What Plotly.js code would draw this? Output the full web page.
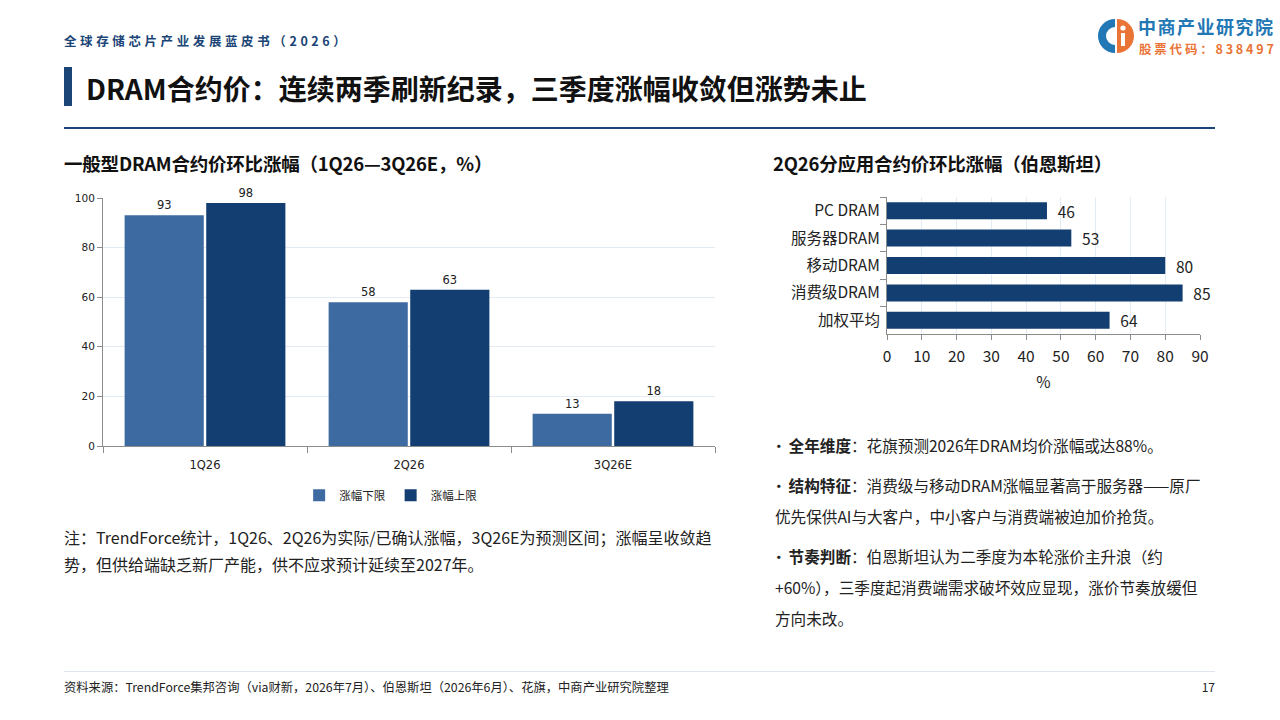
<!DOCTYPE html>
<html>
<head>
<meta charset="utf-8">
<script src="https://cdn.plot.ly/plotly-3.0.1.min.js"></script>
<style>
  html, body { margin: 0; padding: 0; background: #fff; }
  body { width: 1280px; height: 720px; position: relative; overflow: hidden;
         font-family: "Noto Sans CJK SC", "Noto Sans", sans-serif; color: #222; }
  .abs { position: absolute; white-space: nowrap; }
  #kicker { left: 64px; top: 31px; font-size: 12.5px; font-weight: 700; color: #1b4577; letter-spacing: 3.6px; }
  #bar { left: 64px; top: 67px; width: 8px; height: 39px; background: #1b4577; }
  #title { left: 86px; top: 68px; font-size: 28px; font-weight: 700; color: #111; line-height: 40px; letter-spacing: 0; }
  #rule { left: 64px; top: 127px; width: 1151px; height: 2px; background: #1b4577; }
  .sub { top: 149px; font-size: 18.5px; font-weight: 700; color: #111; line-height: 28px; letter-spacing: -0.2px; }
  #note { left: 64px; top: 524px; font-size: 16px; line-height: 27px; color: #222; }
  #bullets { left: 775px; top: 430px; font-size: 15.6px; line-height: 31px; color: #222; }
  #bullets p { margin: 0 0 9px 0; }
  .dot { margin-left: -4px; margin-right: 2px; }
  #foot-rule { left: 64px; top: 671px; width: 1151px; height: 1px; background: #dfe5ec; }
  #source { left: 64px; top: 677px; font-size: 12.3px; color: #222; line-height: 20px; }
  #page { left: 1190px; top: 677px; width: 25px; text-align: right; font-size: 12px; line-height: 20px; }
  #logo-cn { left: 1138px; top: 16px; font-size: 18px; font-weight: 700; color: #2277b5; line-height: 20px; letter-spacing: 1.5px; }
  #logo-code { left: 1139px; top: 42px; font-size: 12.5px; font-weight: 700; color: #ea7436; letter-spacing: 2.8px; line-height: 14px; }
  #chart-left { position: absolute; left: 60px; top: 180px; width: 660px; height: 330px; }
  #chart-right { position: absolute; left: 760px; top: 190px; width: 460px; height: 210px; }
</style>
</head>
<body>
<div id="kicker" class="abs">全球存储芯片产业发展蓝皮书（2026）</div>
<svg class="abs" style="left:1096px;top:17px" width="38" height="38" viewBox="0 0 38 38">
  <path d="M19 2 A17 17 0 0 0 19 36 L19 28 A9 9 0 0 1 19 10 Z" fill="#2277b5"/>
  <path d="M21 2 A17 17 0 0 1 21 36 Z" fill="#ea7436"/>
  <circle cx="27" cy="11" r="2.6" fill="#fff"/>
  <rect x="25" y="16" width="4" height="13" fill="#fff"/>
</svg>
<div id="logo-cn" class="abs">中商产业研究院</div>
<div id="logo-code" class="abs">股票代码：838497</div>

<div id="bar" class="abs"></div>
<div id="title" class="abs">DRAM合约价：连续两季刷新纪录，三季度涨幅收敛但涨势未止</div>
<div id="rule" class="abs"></div>

<div class="abs sub" style="left:64px">一般型DRAM合约价环比涨幅（1Q26—3Q26E，%）</div>
<div class="abs sub" style="left:773px">2Q26分应用合约价环比涨幅（伯恩斯坦）</div>

<div id="chart-left"></div>
<div id="chart-right"></div>

<div id="note" class="abs">注：TrendForce统计，1Q26、2Q26为实际/已确认涨幅，3Q26E为预测区间；涨幅呈收敛趋<br>势，但供给端缺乏新厂产能，供不应求预计延续至2027年。</div>

<div id="bullets" class="abs">
  <p><span class="dot">·</span><b>全年维度</b>：花旗预测2026年DRAM均价涨幅或达88%。</p>
  <p><span class="dot">·</span><b>结构特征</b>：消费级与移动DRAM涨幅显著高于服务器——原厂<br>优先保供AI与大客户，中小客户与消费端被迫加价抢货。</p>
  <p><span class="dot">·</span><b>节奏判断</b>：伯恩斯坦认为二季度为本轮涨价主升浪（约<br>+60%），三季度起消费端需求破坏效应显现，涨价节奏放缓但<br>方向未改。</p>
</div>

<div id="foot-rule" class="abs"></div>
<div id="source" class="abs">资料来源：TrendForce集邦咨询（via财新，2026年7月）、伯恩斯坦（2026年6月）、花旗，中商产业研究院整理</div>
<div id="page" class="abs">17</div>

<script>
// 一般型DRAM合约价环比涨幅
var quarters = ['1Q26', '2Q26', '3Q26E'];
var lowerBound = [93, 58, 13];
var upperBound = [98, 63, 18];
var seriesNames = ['涨幅下限', '涨幅上限'];

// 2Q26分应用合约价环比涨幅（伯恩斯坦）
var segments = ['PC DRAM', '服务器DRAM', '移动DRAM', '消费级DRAM', '加权平均'];
var segmentRise = [46, 53, 80, 85, 64];

var C = {
  light: '#3d6ba1',
  dark: '#133e71',
  grid: '#e3ecf5',
  axis: '#8c8c8c',
  text: '#222222'
};
var FONT = '"Noto Sans CJK SC", "Noto Sans", sans-serif';
var config = { displayModeBar: false, staticPlot: true };

function barTrace(name, values, color) {
  return {
    type: 'bar', name: name, x: quarters, y: values,
    marker: { color: color },
    text: values.map(String), textposition: 'outside', constraintext: 'none',
    textfont: { family: 'DejaVu Sans', size: 11.5, color: C.text },
    cliponaxis: false
  };
}

Plotly.newPlot('chart-left', [
  barTrace(seriesNames[0], lowerBound, C.light),
  barTrace(seriesNames[1], upperBound, C.dark)
], {
  width: 660, height: 330,
  margin: { l: 43, r: 5, t: 18, b: 64 },
  paper_bgcolor: 'rgba(0,0,0,0)', plot_bgcolor: 'rgba(0,0,0,0)',
  font: { family: FONT, color: C.text, size: 11 },
  barmode: 'group', bargap: 0.2, bargroupgap: 0.03,
  xaxis: {
    showline: true, linecolor: C.axis, linewidth: 1,
    ticks: 'outside', tickson: 'boundaries', ticklen: 6, tickcolor: C.axis,
    ticklabelstandoff: 8,
    tickfont: { family: 'DejaVu Sans', size: 11.5, color: C.text }
  },
  yaxis: {
    range: [0, 100], dtick: 20, showgrid: true, gridcolor: C.grid,
    showline: true, linecolor: C.axis, ticks: 'outside', ticklen: 5, tickcolor: C.axis,
    zeroline: false,
    tickfont: { family: 'DejaVu Sans', size: 10.5, color: C.text }
  },
  showlegend: true,
  legend: { orientation: 'h', x: 0.47, xanchor: 'center',
            yref: 'container', y: 0.045, yanchor: 'middle',
            font: { family: FONT, size: 11.5, color: C.text }, itemwidth: 30, tracegroupgap: 0 }
}, config);

Plotly.newPlot('chart-right', [{
  type: 'bar', orientation: 'h',
  x: segmentRise, y: segments,
  marker: { color: C.dark },
  text: segmentRise.map(String), texttemplate: '\u2002%{text}',
  textposition: 'outside', constraintext: 'none',
  textfont: { family: FONT, size: 15.5, color: C.text },
  cliponaxis: false
}], {
  width: 460, height: 210,
  margin: { l: 127, r: 20, t: 7, b: 66 },
  paper_bgcolor: 'rgba(0,0,0,0)', plot_bgcolor: 'rgba(0,0,0,0)',
  font: { family: FONT, color: C.text, size: 15 },
  bargap: 0.38,
  showlegend: false,
  xaxis: {
    range: [0, 90], dtick: 10, showgrid: true, gridcolor: C.grid,
    showline: true, linecolor: C.axis, ticks: 'outside', ticklen: 5, tickcolor: C.axis,
    zeroline: false, ticklabelstandoff: 3,
    tickfont: { family: FONT, size: 15.5, color: C.text },
    title: { text: '%', font: { family: FONT, size: 15.5, color: C.text }, standoff: 12 }
  },
  yaxis: {
    autorange: 'reversed', showline: true, linecolor: C.axis,
    ticks: 'outside', tickson: 'boundaries', ticklen: 6, tickcolor: C.axis,
    ticklabelstandoff: 3,
    tickfont: { family: FONT, size: 15.5, color: C.text }
  }
}, config);
</script>
</body>
</html>
